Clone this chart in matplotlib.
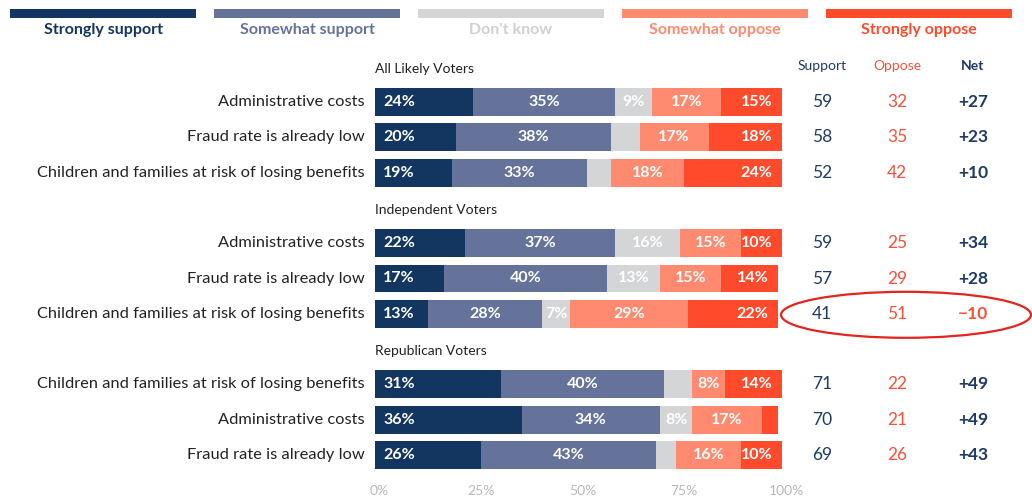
import numpy as np
import matplotlib.pyplot as plt
from matplotlib.patches import Ellipse, Rectangle

plt.rcParams['font.family'] = ['Lato', 'DejaVu Sans']

groups = ["All Likely Voters", "Independent Voters", "Republican Voters"]
items = [
    ["Administrative costs", "Fraud rate is already low", "Children and families at risk of losing benefits"],
    ["Administrative costs", "Fraud rate is already low", "Children and families at risk of losing benefits"],
    ["Children and families at risk of losing benefits", "Administrative costs", "Fraud rate is already low"],
]

strongly_support = [24, 20, 19, 22, 17, 13, 31, 36, 26]
somewhat_support = [35, 38, 33, 37, 40, 28, 40, 34, 43]
dont_know = [9, 7, 6, 16, 13, 7, 7, 8, 5]
somewhat_oppose = [17, 17, 18, 15, 15, 29, 8, 17, 16]
strongly_oppose = [15, 18, 24, 10, 14, 22, 14, 4, 10]
# which segments carry a printed percentage
dk_labeled = [True, False, False, True, True, True, False, True, False]
sto_labeled = [True, True, True, True, True, True, True, False, True]

categories = ["Strongly support", "Somewhat support", "Don't know", "Somewhat oppose", "Strongly oppose"]
colors = ["#12365f", "#65739a", "#d4d5d7", "#ff8a70", "#ff4b2b"]
text_colors = ["#12365f", "#65739a", "#cfd0d2", "#ff8a70", "#ff4b2b"]
xticks = [0, 25, 50, 75, 100]
xtick_labels = ["0%", "25%", "50%", "75%", "100%"]

W, H = 1032, 499
fig = plt.figure(figsize=(W / 100, H / 100), dpi=100)

# bar axes: x in percent, y in row units (row spacing ~35 px)
x0, x1 = 375, 782
row_px = 35.3
top_row_px = 102
ax = fig.add_axes([x0 / W, 0, (x1 - x0) / W, 1])
ax.set_xlim(0, 100)
ax.set_ylim((H - top_row_px) / row_px, -top_row_px / row_px)
ax.axis('off')

series = [strongly_support, somewhat_support, dont_know, somewhat_oppose, strongly_oppose]
n_rows = len(strongly_support)
row_y = [g * 4 + i for g in range(3) for i in range(3)]
bar_h = 0.79

left = np.zeros(n_rows)
for k, vals in enumerate(series):
    vals = np.array(vals, dtype=float)
    ax.barh(row_y, vals, left=left, height=bar_h, color=colors[k], edgecolor='none')
    for r in range(n_rows):
        if k == 2 and not dk_labeled[r]:
            continue
        if k == 4 and not sto_labeled[r]:
            continue
        lab = f"{int(vals[r])}%"
        if k == 0:
            ax.text(left[r] + 2, row_y[r], lab, ha='left', va='center', color='white',
                    fontsize=11.5, fontweight='bold')
        elif k == 4:
            ax.text(left[r] + vals[r] - 2.3, row_y[r], lab, ha='right', va='center', color='white',
                    fontsize=11.5, fontweight='bold')
        else:
            ax.text(left[r] + vals[r] / 2, row_y[r], lab, ha='center', va='center', color='white',
                    fontsize=11.5, fontweight='bold')
    left += vals

# category labels and group headers
for g in range(3):
    ax.text(0, g * 4 - 0.94, groups[g], ha='left', va='center', fontsize=10, color='#222222')
    for i in range(3):
        ax.text(-2.5, g * 4 + i, items[g][i], ha='right', va='center', fontsize=11.8, color='#222222')

for t, lab in zip(xticks, xtick_labels):
    ax.text(t + 1, 11.03, lab, ha='center', va='center', fontsize=10, color='#b8b8b8', clip_on=False)

# overlay in pixel coordinates for legend and summary columns
ov = fig.add_axes([0, 0, 1, 1])
ov.set_xlim(0, W)
ov.set_ylim(H, 0)
ov.axis('off')
ov.patch.set_alpha(0)

leg_x = [10, 214, 418, 622, 826]
for k in range(5):
    ov.add_patch(Rectangle((leg_x[k], 8.5), 186, 9, color=colors[k], lw=0))
    ov.text(leg_x[k] + 93, 30, categories[k], ha='center', va='center', fontsize=11.5,
            fontweight='bold', color=text_colors[k])

support = [a + b for a, b in zip(strongly_support, somewhat_support)]
oppose = [a + b for a, b in zip(somewhat_oppose, strongly_oppose)]
net = [s - o for s, o in zip(support, oppose)]

col_sup, col_opp, col_net = 822, 897, 973
navy = "#1e3a66"
red = "#f4523a"
ov.text(col_sup, 66, "Support", ha='center', va='center', fontsize=10, color=navy)
ov.text(col_opp, 66, "Oppose", ha='center', va='center', fontsize=10, color=red)
ov.text(col_net, 66, "Net", ha='center', va='center', fontsize=10, color=navy, fontweight='bold')

for r in range(n_rows):
    py = top_row_px + row_y[r] * row_px
    ov.text(col_sup, py, str(support[r]), ha='center', va='center', fontsize=12.5, color=navy)
    ov.text(col_opp, py, str(oppose[r]), ha='center', va='center', fontsize=12.5, color=red)
    ntxt = f"+{net[r]}" if net[r] > 0 else f"\u2212{abs(net[r])}"
    ov.text(col_net, py, ntxt, ha='center', va='center', fontsize=12.5, fontweight='bold',
            color=navy if net[r] > 0 else red)

# highlight the one negative net score
neg = [r for r in range(n_rows) if net[r] < 0][0]
ov.add_patch(Ellipse((906, top_row_px + row_y[neg] * row_px + 1), 250, 46, fill=False,
                     edgecolor='#e3241f', lw=1.6, clip_on=False))

fig.savefig("out.png", dpi=100)
